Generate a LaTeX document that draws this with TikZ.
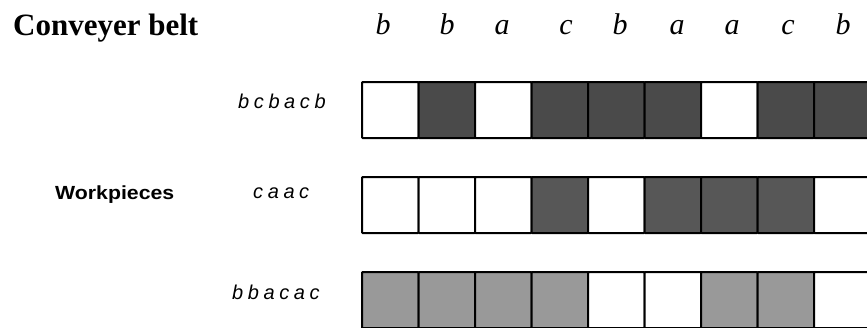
\documentclass[tikz,border=0pt]{standalone}
\usepackage{fontspec}
\setmainfont{Liberation Serif}
\newfontfamily\sansf{Liberation Sans}
\definecolor{cW}{HTML}{FFFFFF}
\definecolor{cD}{HTML}{4A4A4A}
\definecolor{cE}{HTML}{575757}
\definecolor{cG}{HTML}{999999}
\newcommand\lsp{\kern4.6pt}
\begin{document}
\begin{tikzpicture}[x=1pt,y=-1pt,
  cell/.style={draw=black,line width=2pt,rounded corners=0.8pt,minimum width=56.5pt,minimum height=56pt,inner sep=0pt,outer sep=0pt},
  toplet/.style={anchor=base,inner sep=0pt,font=\fontsize{30}{30}\selectfont\itshape},
  wlabel/.style={anchor=base west,inner sep=0pt,font=\sansf\fontsize{20}{20}\selectfont\itshape},
  title/.style={anchor=base west,inner sep=0pt,font=\fontsize{31}{31}\selectfont\bfseries}]
\useasboundingbox (0,0) rectangle (867,327);
\node[title] (conv) at (13,35) {Conveyer belt};
\foreach \x/\l [count=\i] in {383/b,447/b,502/a,566/c,620/b,677/a,732/a,788/c,843/b}
  \node[toplet] (t\i) at (\x,34) {\l};
\node[anchor=base west,inner sep=0pt,font=\sansf\bfseries\fontsize{19}{19}\selectfont] (wp) at (55,199) {\scalebox{1.12}[1]{Workpieces}};
\node[wlabel] (w1) at (238,108) {b\lsp c\lsp b\lsp a\lsp c\lsp b};
\node[wlabel] (w2) at (253,198) {c\lsp a\lsp a\lsp c};
\node[wlabel] (w3) at (232,299) {b\lsp b\lsp a\lsp c\lsp a\lsp c};
\foreach \c [count=\i from 0] in {W,D,W,D,D,D,W,D,D}
  \node[cell,fill=c\c] (ra\i) at ({390.25+56.5*\i},110) {};
\foreach \c [count=\i from 0] in {W,W,W,E,W,E,E,E,W}
  \node[cell,fill=c\c] (rb\i) at ({390.25+56.5*\i},205) {};
\foreach \c [count=\i from 0] in {G,G,G,G,W,W,G,G,W}
  \node[cell,fill=c\c] (rc\i) at ({390.25+56.5*\i},300) {};
\end{tikzpicture}
\end{document}
